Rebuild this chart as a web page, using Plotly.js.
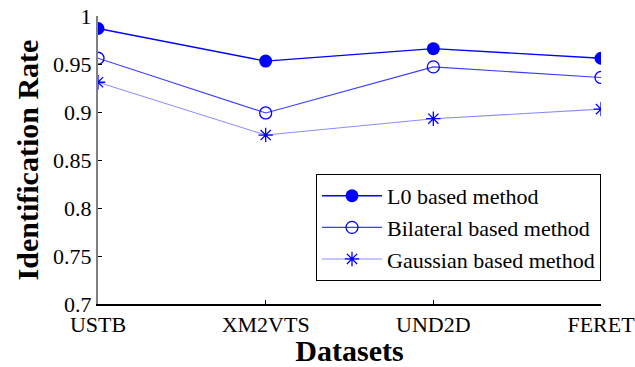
<!DOCTYPE html>
<html>
<head>
<meta charset="utf-8">
<script src="https://cdn.plot.ly/plotly-3.0.1.min.js"></script>
<style>html,body{margin:0;padding:0;background:#fff;}#chart{width:635px;height:367px;}</style>
</head>
<body>
<div id="chart"></div>
<script>
const datasets = ["USTB", "XM2VTS", "UND2D", "FERET"];
const l0Rate = [0.987, 0.953, 0.966, 0.956];
const bilateralRate = [0.956, 0.899, 0.947, 0.936];
const gaussianRate = [0.931, 0.876, 0.893, 0.903];
const yTickVals = [0.7, 0.75, 0.8, 0.85, 0.9, 0.95, 1];
const yTickText = ["0.7", "0.75", "0.8", "0.85", "0.9", "0.95", "1"];
const seriesNames = ["L0 based method", "Bilateral based method", "Gaussian based method"];

const xIdx = datasets.map((d, i) => i);
const font = "Liberation Serif";

const traces = [
  {x: xIdx, y: l0Rate, name: seriesNames[0], mode: "lines+markers",
   line: {color: "#0000ff", width: 1.4},
   marker: {symbol: "circle", size: 13, color: "#0000ff"}},
  {x: xIdx, y: bilateralRate, name: seriesNames[1], mode: "lines+markers",
   line: {color: "#3c3cff", width: 1.1},
   marker: {symbol: "circle-open", size: 12, color: "#0000ff", line: {width: 1.3, color: "#0000ff"}}},
  {x: xIdx, y: gaussianRate, name: seriesNames[2], mode: "lines+markers",
   line: {color: "#8c8cff", width: 1.1},
   marker: {symbol: "asterisk-open", size: 12, color: "#0000ff", line: {width: 1.3, color: "#0000ff"}}}
];

const layout = {
  width: 635, height: 367,
  margin: {l: 98, r: 34, t: 16, b: 63},
  paper_bgcolor: "#fff", plot_bgcolor: "#fff",
  font: {family: font, size: 22, color: "#000"},
  showlegend: true,
  legend: {x: 1.0, xanchor: "right", y: 0.08, yanchor: "bottom",
           bordercolor: "#000", borderwidth: 1, bgcolor: "#fff",
           font: {family: font, size: 22, color: "#000"},
           tracegroupgap: 0, itemwidth: 60},
  xaxis: {
    range: [0, 3], tickmode: "array", tickvals: xIdx, ticktext: datasets,
    showgrid: false, zeroline: false, showline: true, linecolor: "#000", linewidth: 1.5,
    ticks: "inside", ticklen: 4, tickcolor: "#000",
    tickfont: {family: font, size: 22, color: "#000"},
    ticklabeloverflow: "allow",
    automargin: false,
    title: {text: "Datasets", font: {family: font, size: 30, color: "#000", weight: "bold"}, standoff: 4}
  },
  yaxis: {
    range: [0.7, 1], tickmode: "array", tickvals: yTickVals, ticktext: yTickText,
    showgrid: false, zeroline: false, showline: true, linecolor: "#808080", linewidth: 2,
    ticks: "inside", ticklen: 4, tickcolor: "#000",
    tickfont: {family: font, size: 22, color: "#000"},
    automargin: false,
    title: {text: "Identification Rate", font: {family: font, size: 30, color: "#000", weight: "bold"}, standoff: 6}
  }
};

Plotly.newPlot("chart", traces, layout, {displayModeBar: false, staticPlot: true});
</script>
</body>
</html>
